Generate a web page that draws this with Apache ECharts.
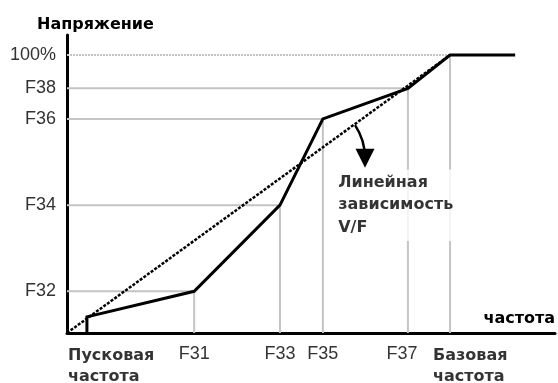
<!DOCTYPE html>
<html><head><meta charset="utf-8">
<script src="https://cdn.jsdelivr.net/npm/echarts@6/dist/echarts.min.js"></script>
<style>html,body{margin:0;background:#fff}#c{width:558px;height:383px}</style>
</head><body><div id="c"></div><script>
// V/F characteristic: frequency in Hz, voltage in % of rated
const startFreq = 2.6;
const baseFreq = 50;
const endFreq = 58.5;
const freqPoints = [16.6, 27.8, 33.4, 44.5];
const freqLabels = ['F31', 'F33', 'F35', 'F37'];
const startVolt = 5.8;
const fullVolt = 100;
const voltPoints = [15, 46, 77, 88];
const voltLabels = ['F32', 'F34', 'F36', 'F38'];
const fullVoltLabel = '100%';

const FONT = '"Liberation Sans", Arial, sans-serif';
const BOLD = '"DejaVu Sans", sans-serif';
const GRAY = '#c4c4c4';
const BG = '#ffffff';

const curve = [[startFreq, 0], [startFreq, startVolt]];
freqPoints.forEach((f, i) => curve.push([f, voltPoints[i]]));
curve.push([baseFreq, fullVolt], [endFreq, fullVolt]);

const dropSeries = freqPoints.map((f, i) => ({
  type: 'line', silent: true, symbol: 'none', z: 1,
  lineStyle: { color: GRAY, width: 2 },
  data: [[0, voltPoints[i]], [f, voltPoints[i]], [f, 0]]
}));

const yLabelMap = {};
voltPoints.forEach((v, i) => { yLabelMap[v] = voltLabels[i]; });
yLabelMap[fullVolt] = fullVoltLabel;
const xLabelMap = {};
freqPoints.forEach((f, i) => { xLabelMap[f] = freqLabels[i]; });
const lastFreq = freqPoints[freqPoints.length - 1];

const chart = echarts.init(document.getElementById('c'));
chart.setOption({
  backgroundColor: BG,
  animation: false,
  title: {
    text: 'Напряжение', left: 32, top: 12,
    textStyle: { fontFamily: BOLD, fontWeight: 'bold', fontSize: 16, color: '#000' }
  },
  grid: { left: 67, right: 3, top: 35, bottom: 50 },
  xAxis: {
    type: 'value', min: 0, max: 63.7,
    name: 'частота', nameLocation: 'end', nameGap: 0,
    nameTextStyle: { fontFamily: BOLD, fontWeight: 'bold', fontSize: 16, color: '#000',
      align: 'right', verticalAlign: 'bottom', padding: [0, 0, 6, 0] },
    axisLine: { lineStyle: { color: '#000', width: 3 } },
    axisTick: { show: false }, splitLine: { show: false },
    axisLabel: {
      customValues: freqPoints, margin: 12,
      fontFamily: FONT, fontSize: 18, color: '#333',
      // the last label sits slightly left so it clears the base-frequency caption
      formatter: v => v === lastFreq ? '{near|' + xLabelMap[v] + '}' : (xLabelMap[v] || ''),
      rich: { near: { fontFamily: FONT, fontSize: 18, color: '#333', padding: [0, 12, 0, 0] } }
    }
  },
  yAxis: {
    type: 'value', min: 0, max: 107.2,
    axisLine: { lineStyle: { color: '#000', width: 3 } },
    axisTick: { show: false }, splitLine: { show: false },
    axisLabel: {
      customValues: voltPoints.concat([fullVolt]), margin: 11,
      fontFamily: FONT, fontSize: 18, color: '#333',
      formatter: v => yLabelMap[v] || ''
    }
  },
  series: dropSeries.concat([
    {
      type: 'line', silent: true, symbol: 'none', z: 1,
      lineStyle: { color: GRAY, width: 2, type: [2, 1] },
      data: [[0, fullVolt], [baseFreq, fullVolt]]
    },
    {
      type: 'line', silent: true, symbol: 'none', z: 1,
      lineStyle: { color: GRAY, width: 2 },
      data: [[baseFreq, fullVolt], [baseFreq, 0]]
    },
    {
      // linear V/F reference
      type: 'line', silent: true, symbol: 'none', z: 3,
      lineStyle: { color: '#000', width: 2.5, type: [3, 1.5] },
      data: [[0, 0], [baseFreq, fullVolt]]
    },
    {
      // programmed V/F curve
      type: 'line', silent: true, symbol: 'none', z: 4,
      lineStyle: { color: '#000', width: 3, join: 'miter' },
      data: curve
    },
    {
      // pointer from the linear line to its caption
      type: 'lines', coordinateSystem: 'cartesian2d', silent: true, z: 5,
      symbol: ['none', 'triangle'], symbolSize: 19,
      lineStyle: { color: '#000', width: 2.5, opacity: 1, curveness: 0.15 },
      data: [{ coords: [[37.6, 74.8], [38.9, 62.9]] }]
    },
    {
      type: 'scatter', silent: true, symbolSize: 0, z: 6,
      label: {
        show: true, position: 'right', distance: 0,
        fontFamily: BOLD, fontWeight: 'bold', fontSize: 16, color: '#000', lineHeight: 22.5,
        backgroundColor: BG, padding: [2, 2, 2, 0]
      },
      data: [{ value: [35.4, 46], label: { formatter: 'Линейная\nзависимость\nV/F' } }]
    },
    {
      type: 'scatter', silent: true, symbolSize: 0, z: 6,
      label: {
        show: true, position: 'inside', align: 'left', verticalAlign: 'top',
        fontFamily: BOLD, fontWeight: 'bold', fontSize: 16, color: '#000', lineHeight: 21
      },
      data: [
        { value: [0, 0], label: { offset: [1, 12], formatter: 'Пусковая\nчастота' } },
        { value: [baseFreq, 0], label: { offset: [-17, 12], formatter: 'Базовая\nчастота' } }
      ]
    }
  ])
});
</script></body></html>
